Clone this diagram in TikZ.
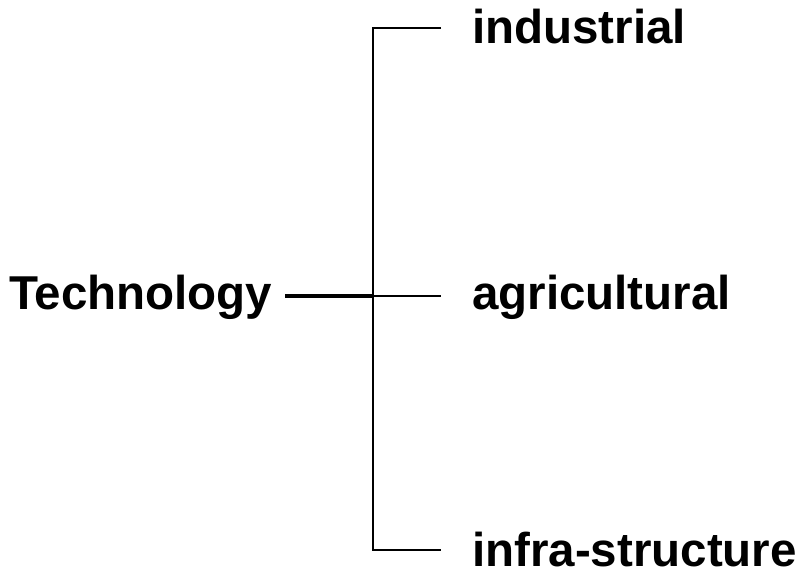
\documentclass[tikz,border=0pt]{standalone}
\usepackage{fontspec}
\newfontfamily\labelfont{Liberation Sans}
\usepackage{tikz}
\usetikzlibrary{calc}

\tikzset{
  word/.style={anchor=base west, inner sep=0pt, font=\labelfont\bfseries\fontsize{47.5}{52}\selectfont},
  stem/.style={line width=3.2pt},
  branch/.style={line width=1.8pt}
}

\begin{document}
\begin{tikzpicture}[x=1pt, y=-1pt]
  % Page frame
  \useasboundingbox (0,0) rectangle (802,575);

  % Root and leaves
  \node[word] (tech)  at (9,309)   {Technology};
  \node[word] (ind)   at (472,44)  {industrial};
  \node[word] (agr)   at (472,309) {agricultural};
  \node[word] (infra) at (472,566) {infra-structure};

  % Corners of the bracket
  \coordinate (split) at (373,296);
  \coordinate (top)   at (373,28);
  \coordinate (bot)   at (373,550);

  % Stem from the root to the bracket
  \draw[stem] ([xshift=13]tech.east |- split) -- (split);

  % Bracket and branches
  \draw[branch] ([xshift=-31]ind.west |- top) -- (top) -- (bot) -- ([xshift=-31]infra.west |- bot);
  \draw[branch] (split) -- ([xshift=-31]agr.west |- split);
\end{tikzpicture}
\end{document}
